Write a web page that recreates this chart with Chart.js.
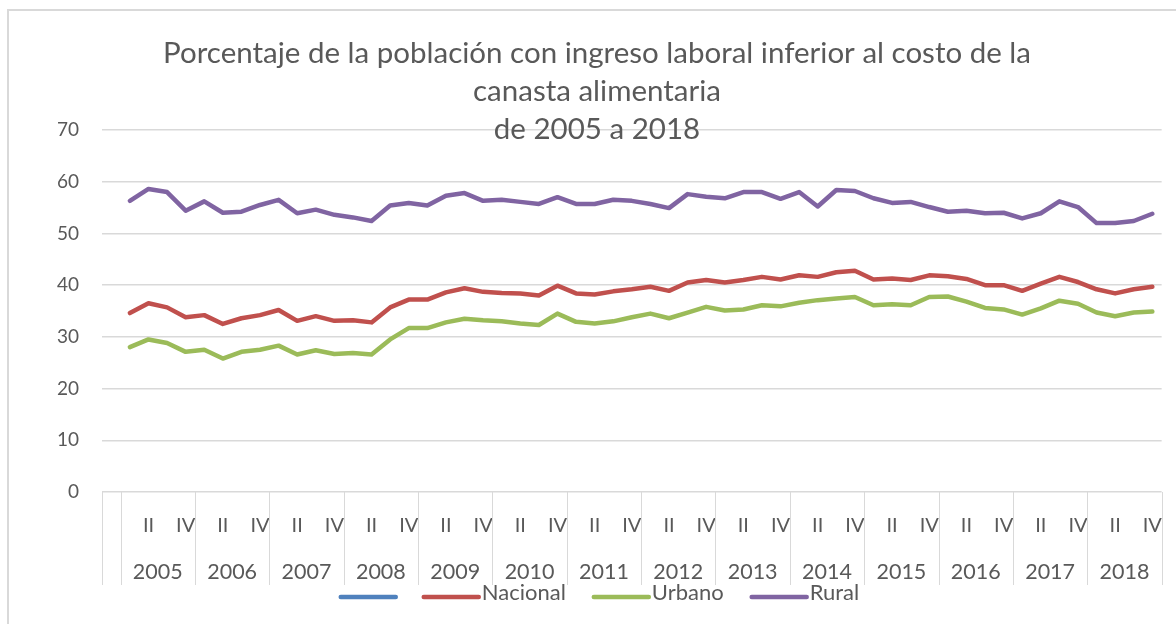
<!DOCTYPE html>
<html>
<head>
<meta charset="utf-8">
<script src="https://cdn.jsdelivr.net/npm/chart.js@4.4.1/dist/chart.umd.min.js"></script>
<style>
  html, body { margin: 0; padding: 0; background: #fff; }
</style>
</head>
<body>
<canvas id="porcentaje" width="1176" height="624"></canvas>
<script>
const titleLines = [
    "Porcentaje de la población con ingreso laboral inferior al costo de la",
    "canasta alimentaria",
    "de 2005 a 2018"
]
const years = ["2005", "2006", "2007", "2008", "2009", "2010", "2011", "2012", "2013", "2014", "2015", "2016", "2017", "2018"]
const quarters = ["I", "II", "III", "IV"]
const seriesNames = ["", "Nacional", "Urbano", "Rural"]
const seriesColors = ["#4F81BD", "#C0504D", "#9BBB59", "#8064A2"]

const nacional = [
    34.6, 36.5, 35.7, 33.8, 34.2, 32.5, 33.6, 34.2, 35.2, 33.1, 34.0, 33.1, 33.2, 32.8,
    35.7, 37.2, 37.2, 38.6, 39.4, 38.7, 38.5, 38.4, 38.0, 39.9, 38.4, 38.2, 38.8, 39.2,
    39.7, 38.9, 40.5, 41.0, 40.5, 41.0, 41.6, 41.1, 41.9, 41.6, 42.5, 42.8, 41.1, 41.3,
    41.0, 41.9, 41.7, 41.2, 40.0, 40.0, 38.9, 40.3, 41.6, 40.6, 39.2, 38.4, 39.2, 39.7
]
const urbano = [
    28.0, 29.5, 28.8, 27.1, 27.5, 25.8, 27.1, 27.5, 28.3, 26.6, 27.4, 26.7, 26.9, 26.6,
    29.5, 31.7, 31.7, 32.8, 33.5, 33.2, 33.0, 32.6, 32.3, 34.5, 32.9, 32.6, 33.0, 33.8,
    34.5, 33.6, 34.7, 35.8, 35.1, 35.3, 36.1, 35.9, 36.6, 37.1, 37.4, 37.7, 36.1, 36.3,
    36.1, 37.7, 37.8, 36.8, 35.6, 35.3, 34.3, 35.5, 37.0, 36.4, 34.7, 34.0, 34.7, 34.9
]
const rural = [
    56.3, 58.6, 58.0, 54.4, 56.2, 54.0, 54.2, 55.5, 56.5, 53.9, 54.6, 53.6, 53.1, 52.4,
    55.4, 55.9, 55.4, 57.3, 57.8, 56.3, 56.5, 56.1, 55.7, 57.0, 55.7, 55.7, 56.5, 56.3,
    55.7, 54.9, 57.6, 57.1, 56.8, 58.0, 58.0, 56.7, 58.0, 55.2, 58.4, 58.2, 56.8, 55.9,
    56.1, 55.1, 54.2, 54.4, 53.9, 54.0, 52.9, 53.9, 56.2, 55.1, 52.0, 52.0, 52.4, 53.8
]

// first category is an empty one, as in the source sheet
const labels = [""]
years.forEach(() => quarters.forEach(q => labels.push(q)))

const textColor = "#595959"
const gridColor = "#d9d9d9"
const fontFamily = "Lato, 'Open Sans', sans-serif"

const decorPlugin = {
    id: "decor",
    afterDraw(chart) {
        const { ctx, chartArea, scales } = chart
        const x = scales.x
        const step = (x.getPixelForValue(1) - x.getPixelForValue(0))
        ctx.save()

        // outer frame
        ctx.strokeStyle = gridColor
        ctx.lineWidth = 2
        ctx.beginPath()
        ctx.moveTo(8, 624)
        ctx.lineTo(8, 10)
        ctx.lineTo(1176, 10)
        ctx.stroke()

        // title
        ctx.fillStyle = textColor
        ctx.font = "29.5px " + fontFamily
        ctx.textAlign = "center"
        ctx.textBaseline = "middle"
        titleLines.forEach((t, i) => ctx.fillText(t, 597, 53 + i * 38))

        // year separators and labels
        const bottom = chartArea.bottom
        ctx.strokeStyle = gridColor
        ctx.lineWidth = 1
        const sep = [0, 1]
        years.forEach((y, k) => sep.push(1 + (k + 1) * 4))
        sep.forEach(i => {
            const px = Math.round(x.getPixelForValue(i) - step / 2) + 0.5
            ctx.beginPath()
            ctx.moveTo(px, bottom)
            ctx.lineTo(px, bottom + 93)
            ctx.stroke()
        })
        ctx.font = "21.5px " + fontFamily
        years.forEach((y, k) => {
            const a = x.getPixelForValue(1 + k * 4)
            const b = x.getPixelForValue(4 + k * 4)
            ctx.fillText(y, (a + b) / 2, bottom + 80)
        })

        // legend
        ctx.font = "22px " + fontFamily
        ctx.textAlign = "left"
        const lineW = 55
        const gap = 3
        const space = 28
        const widths = seriesNames.map(n => lineW + (n ? gap + ctx.measureText(n).width : 0))
        const total = widths.reduce((s, w) => s + w, 0) + space * (widths.length - 1)
        let lx = 600 - total / 2
        const ly = 597
        seriesNames.forEach((n, i) => {
            ctx.strokeStyle = seriesColors[i]
            ctx.lineWidth = 4.5
            ctx.lineCap = "round"
            ctx.beginPath()
            ctx.moveTo(lx, ly)
            ctx.lineTo(lx + lineW, ly)
            ctx.stroke()
            if (n) {
                ctx.fillStyle = textColor
                ctx.fillText(n, lx + lineW + gap, ly - 4)
            }
            lx += widths[i] + space
        })
        ctx.restore()
    }
}

const makeSet = (name, values, color) => ({
    label: name,
    data: values ? [null, ...values] : [],
    borderColor: color,
    backgroundColor: color,
    borderWidth: 4.5,
    pointRadius: 0,
    tension: 0,
    borderJoinStyle: "round",
    borderCapStyle: "round"
})

new Chart(document.getElementById("porcentaje"), {
    type: "line",
    data: {
        labels,
        datasets: [
            makeSet(seriesNames[0], null, seriesColors[0]),
            makeSet(seriesNames[1], nacional, seriesColors[1]),
            makeSet(seriesNames[2], urbano, seriesColors[2]),
            makeSet(seriesNames[3], rural, seriesColors[3])
        ]
    },
    options: {
        responsive: false,
        devicePixelRatio: 1,
        animation: false,
        layout: { padding: { top: 130, right: 10, left: 0, bottom: 0 } },
        plugins: {
            legend: { display: false },
            title: { display: false },
            tooltip: { enabled: false }
        },
        scales: {
            x: {
                type: "category",
                offset: true,
                grid: { display: false },
                border: { display: false },
                ticks: {
                    autoSkip: false,
                    maxRotation: 0,
                    color: textColor,
                    font: { family: fontFamily, size: 20 },
                    padding: 14,
                    callback: (v, i) => (i % 2 === 0 ? labels[i] : "")
                },
                afterFit: s => { s.height = 132 }
            },
            y: {
                min: 0,
                max: 70,
                grid: { color: gridColor, lineWidth: 1.5, drawTicks: false },
                border: { display: false },
                ticks: {
                    stepSize: 10,
                    color: textColor,
                    font: { family: fontFamily, size: 19 },
                    padding: 23
                },
                afterFit: s => { s.width = 102 }
            }
        }
    },
    plugins: [decorPlugin]
})
</script>
</body>
</html>
